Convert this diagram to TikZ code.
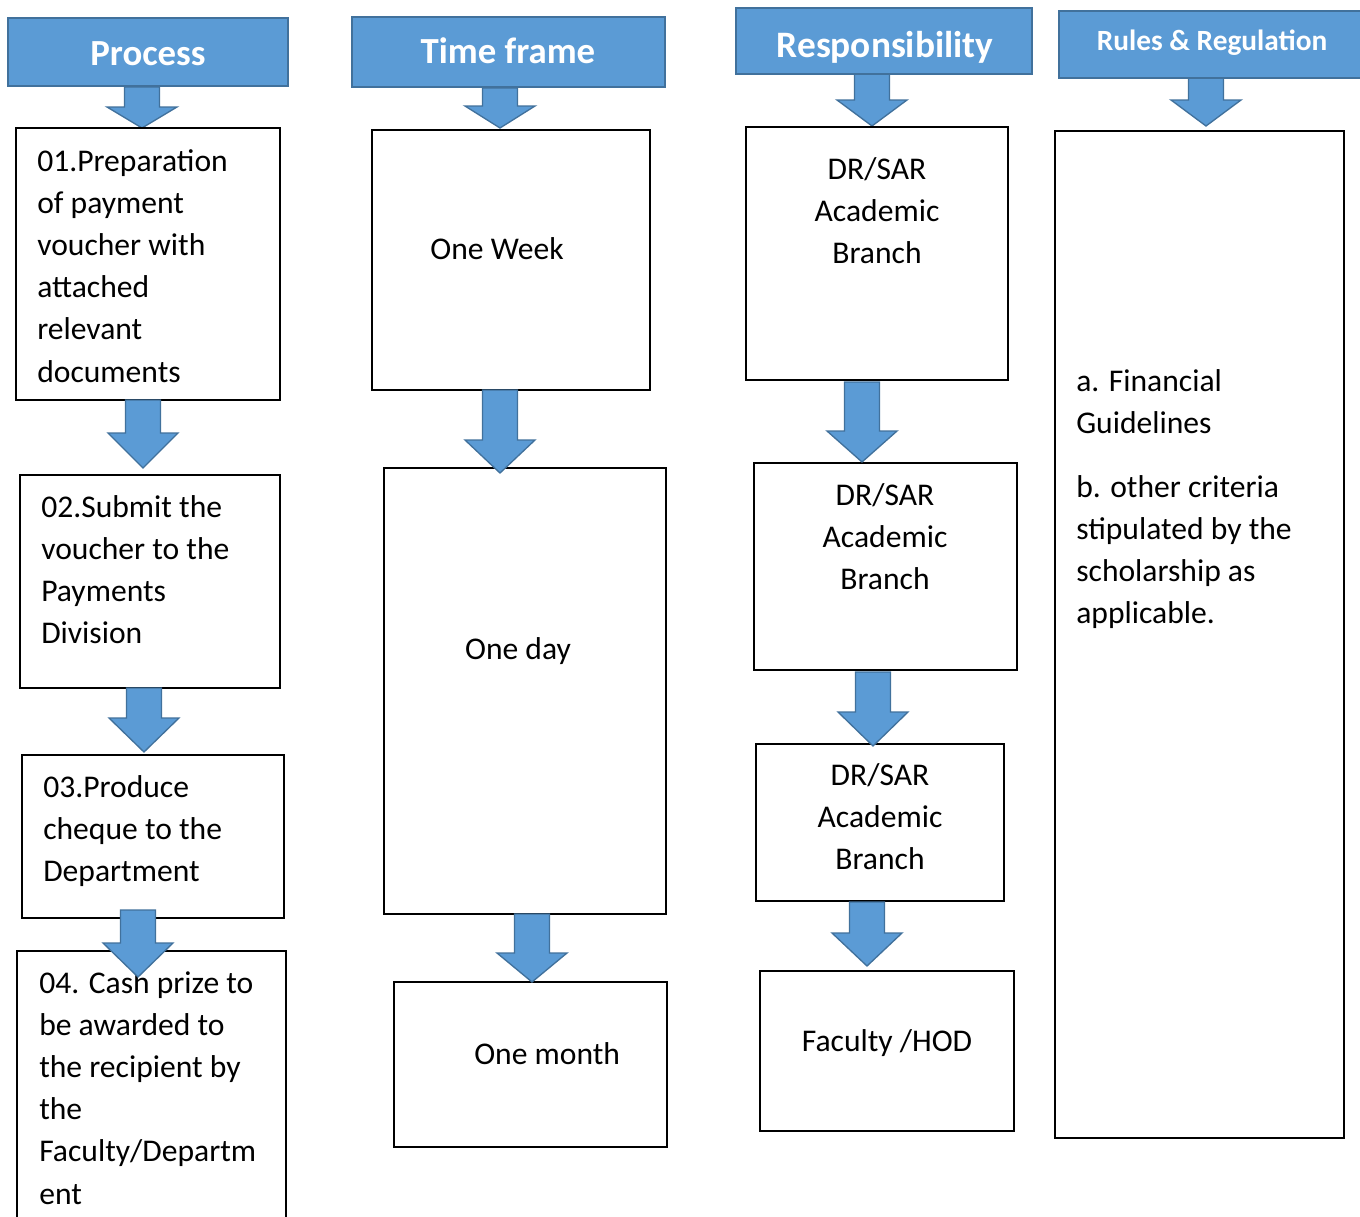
\documentclass[tikz,border=0pt]{standalone}
\usepackage{fontspec}
\setmainfont{Carlito}
\usetikzlibrary{fit}
\definecolor{hdrfill}{HTML}{5B9BD5}
\definecolor{hdrline}{HTML}{41719C}
% block arrow: centre x, top of shaft, top of head, tip
\newcommand\blkarrow[4]{%
  \draw[barrow] (#1-17.5,#2) -- (#1+17.5,#2) -- (#1+17.5,#3) -- (#1+35,#3)
    -- (#1,#4) -- (#1-35,#3) -- (#1-17.5,#3) -- cycle;}
\begin{document}
\begin{tikzpicture}[x=0.75pt,y=-0.75pt,
  hdr/.style={draw=hdrline, fill=hdrfill, line width=1.5pt, inner sep=0pt},
  box/.style={draw=black, line width=1.5pt, inner sep=0pt},
  barrow/.style={draw=hdrline, fill=hdrfill, line width=1pt, line join=miter},
  body/.style={font=\fontsize{23.7}{31.5}\selectfont, inner sep=0pt},
  txt/.style={body, anchor=base west},
  ctxt/.style={body, anchor=base},
  htxt/.style={text=white, anchor=base, inner sep=0pt}]
\useasboundingbox[fill=white] (0,0) rectangle (1360,1217);

% ---- column headers
\blkarrow{142}{87}{107}{128}
\blkarrow{500}{88}{106}{128}
\blkarrow{872}{74}{100}{126}
\blkarrow{1206}{78}{100}{126}
\node[hdr, fit={(8,18) (288,86)}] (hproc) {};
\node[hdr, fit={(352,17) (665,87)}] (htime) {};
\node[hdr, fit={(736,8) (1032,74)}] (hresp) {};
\node[hdr, fit={(1059,11) (1366,78)}] (hrule) {};
\node[htxt, font=\fontsize{27.6}{30}\selectfont\bfseries] (tproc) at (148,65) {Process};
\node[htxt, font=\fontsize{27.6}{30}\selectfont\bfseries] (ttime) at (508,63) {Time frame};
\node[htxt, font=\fontsize{28}{30}\selectfont\bfseries] (tresp) at (885,57) {Responsibility};
\node[htxt, font=\fontsize{22}{25}\selectfont\bfseries] (trule) at (1212,50) {Rules \& Regulation};

% ---- process column
\node[box, fit={(16,128) (280,400)}] (p1) {};
\node[box, fit={(20,475) (280,688)}] (p2) {};
\node[box, fit={(22,755) (284,918)}] (p3) {};
\node[box, fit={(17,951) (286,1240)}] (p4) {};
\foreach \t [count=\i from 0] in {01.Preparation, of payment, voucher with, attached, relevant, documents}
  \node[txt] (p1l\i) at (37,171+42.2*\i) {\t};
\foreach \t [count=\i from 0] in {02.Submit the, voucher to the, Payments, Division}
  \node[txt] (p2l\i) at (41,517+42.3*\i) {\t};
\foreach \t [count=\i from 0] in {03.Produce, cheque to the, Department}
  \node[txt] (p3l\i) at (43,797+42.2*\i) {\t};
\foreach \t [count=\i from 0] in {04. Cash prize to, be awarded to, the recipient by, the, Faculty/Departm, ent}
  \node[txt] (p4l\i) at (39,993+42.2*\i) {\t};
\blkarrow{143}{400}{433}{468}
\blkarrow{144}{688}{718}{752}
\blkarrow{138}{910}{943}{977}

% ---- time frame column
\node[box, fit={(372,130) (650,390)}] (t1) {};
\node[box, fit={(384,468) (666,914)}] (t2) {};
\node[box, fit={(394,982) (667,1147)}] (t3) {};
\node[ctxt] (t1l) at (497,259) {One Week};
\node[ctxt] (t2l) at (518,659) {One day};
\node[txt] (t3l) at (474,1064) {One month};
\blkarrow{500}{390}{440}{473}
\blkarrow{532}{914}{953}{982}

% ---- responsibility column
\node[box, fit={(746,127) (1008,380)}] (r1) {};
\node[box, fit={(754,463) (1017,670)}] (r2) {};
\node[box, fit={(756,744) (1004,901)}] (r3) {};
\node[box, fit={(760,971) (1014,1131)}] (r4) {};
\foreach \t [count=\i from 0] in {DR/SAR, Academic, Branch}{
  \node[ctxt] (r1l\i) at (877,179+42.3*\i) {\t};
  \node[ctxt] (r2l\i) at (885,505+42.3*\i) {\t};
  \node[ctxt] (r3l\i) at (880,785+42.3*\i) {\t};
}
\node[ctxt] (r4l) at (887,1051) {Faculty /HOD};
\blkarrow{862}{382}{431}{462}
\blkarrow{873}{672}{712}{746}
\blkarrow{867}{902}{933}{966}

% ---- rules column
\node[box, fit={(1055,131) (1344,1138)}] (g1) {};
\node[txt] (g1a) at (1076,391) {a. Financial};
\node[txt] (g1b) at (1076,433) {Guidelines};
\foreach \t [count=\i from 0] in {b. other criteria, stipulated by the, scholarship as, applicable.}
  \node[txt] (g2l\i) at (1076,497+42*\i) {\t};
\end{tikzpicture}
\end{document}
